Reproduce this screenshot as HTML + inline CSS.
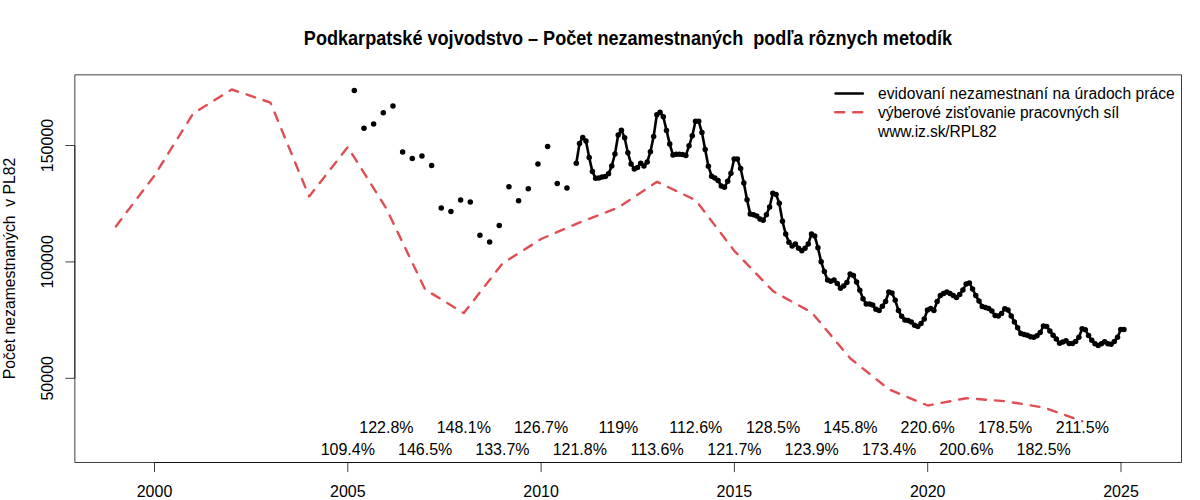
<!DOCTYPE html>
<html><head><meta charset="utf-8"><style>
html,body{margin:0;padding:0;background:#fff;width:1200px;height:500px;overflow:hidden}
svg{display:block}
text{font-family:"Liberation Sans",sans-serif;fill:#000}
</style></head><body>
<svg width="1200" height="500" viewBox="0 0 1200 500">
<rect x="0" y="0" width="1200" height="500" fill="#fff"/>
<text transform="translate(628,44.5) scale(1,1.09)" x="0" y="0" text-anchor="middle" font-weight="bold" font-size="18.1" xml:space="preserve">Podkarpatské vojvodstvo – Počet nezamestnaných  podľa rôznych metodík</text>
<path d="M74.85,74.85 H1181.5 V462.5 H74.85 Z" fill="none" stroke="#000" stroke-width="0.75" stroke-linejoin="round"/>
<text x="154.50" y="496.6" text-anchor="middle" font-size="16">2000</text>
<text x="347.80" y="496.6" text-anchor="middle" font-size="16">2005</text>
<text x="541.10" y="496.6" text-anchor="middle" font-size="16">2010</text>
<text x="734.40" y="496.6" text-anchor="middle" font-size="16">2015</text>
<text x="927.70" y="496.6" text-anchor="middle" font-size="16">2020</text>
<text x="1121.00" y="496.6" text-anchor="middle" font-size="16">2025</text>
<text transform="translate(53,378.3) rotate(-90)" x="0" y="0" text-anchor="middle" font-size="16">50000</text>
<text transform="translate(53,261.9) rotate(-90)" x="0" y="0" text-anchor="middle" font-size="16">100000</text>
<text transform="translate(53,145.5) rotate(-90)" x="0" y="0" text-anchor="middle" font-size="16">150000</text>
<path d="M154.50,462.5V472.1M347.80,462.5V472.1M541.10,462.5V472.1M734.40,462.5V472.1M927.70,462.5V472.1M1121.00,462.5V472.1M65.4,378.3H74.85M65.4,261.9H74.85M65.4,145.5H74.85M154.50,462.5H1121.00M74.85,378.3V145.5" fill="none" stroke="#000" stroke-width="0.75"/>
<text transform="translate(14.8,268.4) rotate(-90)" x="0" y="0" text-anchor="middle" font-size="15.75" xml:space="preserve">Počet nezamestnaných  v PL82</text>
<polyline points="115.84,226.4 154.50,175.5 193.16,113.5 231.82,89.5 270.48,102.6 309.14,196.5 347.80,147 386.46,208.8 425.12,289.5 463.78,313.1 502.44,263.5 541.10,239 579.76,222.4 618.42,207.4 657.08,181.8 695.74,200.2 734.40,251 773.06,291.2 811.72,312.5 850.38,358.5 889.04,389.5 927.70,405.5 966.36,398.2 1005.02,401.2 1043.68,407.5 1082.34,421.2" fill="none" stroke="#DF4E54" stroke-width="2.4" stroke-dasharray="9 9" stroke-linecap="round" stroke-linejoin="round"/>
<circle cx="354.30" cy="90.6" r="2.75"/>
<circle cx="363.97" cy="128.2" r="2.75"/>
<circle cx="373.63" cy="124" r="2.75"/>
<circle cx="383.30" cy="112.8" r="2.75"/>
<circle cx="392.96" cy="106" r="2.75"/>
<circle cx="402.62" cy="152" r="2.75"/>
<circle cx="412.29" cy="158.4" r="2.75"/>
<circle cx="421.96" cy="155.9" r="2.75"/>
<circle cx="431.62" cy="165.4" r="2.75"/>
<circle cx="441.28" cy="208" r="2.75"/>
<circle cx="450.95" cy="211.5" r="2.75"/>
<circle cx="460.62" cy="200" r="2.75"/>
<circle cx="470.28" cy="202" r="2.75"/>
<circle cx="479.94" cy="235.3" r="2.75"/>
<circle cx="489.61" cy="242" r="2.75"/>
<circle cx="499.27" cy="225.5" r="2.75"/>
<circle cx="508.94" cy="186.7" r="2.75"/>
<circle cx="518.61" cy="200.7" r="2.75"/>
<circle cx="528.27" cy="188.8" r="2.75"/>
<circle cx="537.93" cy="163.9" r="2.75"/>
<circle cx="547.60" cy="146.4" r="2.75"/>
<circle cx="557.26" cy="183.5" r="2.75"/>
<circle cx="566.93" cy="188" r="2.75"/>
<polyline points="576.30,163.3 579.52,143.5 582.74,137.4 585.97,141 589.19,157.6 592.41,171.6 595.63,178.2 598.85,177.9 602.07,177 605.30,176.5 608.52,173.8 611.74,166 614.96,154 618.18,135 621.40,130.2 624.63,137.8 627.85,152.7 631.07,163.9 634.29,168.9 637.51,167.5 640.73,163.3 643.96,166 647.18,162 650.40,151.8 653.62,136.5 656.84,114.7 660.06,112.2 663.29,116.8 666.51,130.4 669.73,144.1 672.95,154.9 676.17,154.2 679.39,154.2 682.62,154.6 685.84,155.4 689.06,145.8 692.28,135.7 695.50,121.3 698.72,121.3 701.95,132.6 705.17,149.4 708.39,166.2 711.61,176.2 714.83,178.1 718.05,180.5 721.28,186 724.50,187.3 727.72,181.3 730.94,173.3 734.16,159 737.38,159 740.61,168.5 743.83,183 747.05,199.7 750.27,214.1 753.49,214.7 756.72,216 759.94,219 763.16,220.3 766.38,214.7 769.60,207 772.82,193.2 776.05,194.4 779.27,203.2 782.49,221.2 785.71,234 788.93,242.3 792.15,246 795.38,244 798.60,248.3 801.82,250.7 805.04,248.3 808.26,244 811.48,234 814.71,235.9 817.93,247.7 821.15,261.8 824.37,271.6 827.59,280 830.81,281.2 834.04,280 837.26,283.5 840.48,288.3 843.70,286 846.92,282.4 850.14,274 853.37,275.6 856.59,281.9 859.81,290.3 863.03,298.7 866.25,303.9 869.47,303.9 872.70,305.1 875.92,309.2 879.14,310.6 882.36,306.3 885.58,301.5 888.80,292 892.03,293.1 895.25,300.3 898.47,310.6 901.69,316.3 904.91,320 908.14,320.5 911.36,322 914.58,325.2 917.80,326.4 921.02,323.6 924.24,319 927.47,310 930.69,308.6 933.91,310.4 937.13,301.6 940.35,295.6 943.57,293.6 946.80,292 950.02,293.6 953.24,295.6 956.46,297.6 959.68,294.4 962.90,290 966.13,284 969.35,283 972.57,289 975.79,295.6 979.01,301 982.23,306.4 985.46,307.6 988.68,308.4 991.90,311 995.12,315.5 998.34,316 1001.56,313.6 1004.79,308.8 1008.01,310 1011.23,316 1014.45,321.9 1017.67,327.7 1020.89,333.6 1024.12,334.4 1027.34,335.2 1030.56,336.8 1033.78,337.3 1037.00,335.7 1040.22,332.5 1043.45,326 1046.67,326.4 1049.89,330.9 1053.11,335.2 1056.33,338.9 1059.55,343.2 1062.78,342 1066.00,340.8 1069.22,343.5 1072.44,343.5 1075.66,341.4 1078.89,337.2 1082.11,328.8 1085.33,329.8 1088.55,335.4 1091.77,340.2 1094.99,343.8 1098.22,345.6 1101.44,343.8 1104.66,341.8 1107.88,343.8 1111.10,344.2 1114.32,341.4 1117.55,337.2 1120.77,329.4 1123.99,329.4" fill="none" stroke="#000" stroke-width="2.6" stroke-linejoin="round" stroke-linecap="round"/>
<circle cx="576.30" cy="163.3" r="2.75"/>
<circle cx="579.52" cy="143.5" r="2.75"/>
<circle cx="582.74" cy="137.4" r="2.75"/>
<circle cx="585.97" cy="141" r="2.75"/>
<circle cx="589.19" cy="157.6" r="2.75"/>
<circle cx="592.41" cy="171.6" r="2.75"/>
<circle cx="595.63" cy="178.2" r="2.75"/>
<circle cx="598.85" cy="177.9" r="2.75"/>
<circle cx="602.07" cy="177" r="2.75"/>
<circle cx="605.30" cy="176.5" r="2.75"/>
<circle cx="608.52" cy="173.8" r="2.75"/>
<circle cx="611.74" cy="166" r="2.75"/>
<circle cx="614.96" cy="154" r="2.75"/>
<circle cx="618.18" cy="135" r="2.75"/>
<circle cx="621.40" cy="130.2" r="2.75"/>
<circle cx="624.63" cy="137.8" r="2.75"/>
<circle cx="627.85" cy="152.7" r="2.75"/>
<circle cx="631.07" cy="163.9" r="2.75"/>
<circle cx="634.29" cy="168.9" r="2.75"/>
<circle cx="637.51" cy="167.5" r="2.75"/>
<circle cx="640.73" cy="163.3" r="2.75"/>
<circle cx="643.96" cy="166" r="2.75"/>
<circle cx="647.18" cy="162" r="2.75"/>
<circle cx="650.40" cy="151.8" r="2.75"/>
<circle cx="653.62" cy="136.5" r="2.75"/>
<circle cx="656.84" cy="114.7" r="2.75"/>
<circle cx="660.06" cy="112.2" r="2.75"/>
<circle cx="663.29" cy="116.8" r="2.75"/>
<circle cx="666.51" cy="130.4" r="2.75"/>
<circle cx="669.73" cy="144.1" r="2.75"/>
<circle cx="672.95" cy="154.9" r="2.75"/>
<circle cx="676.17" cy="154.2" r="2.75"/>
<circle cx="679.39" cy="154.2" r="2.75"/>
<circle cx="682.62" cy="154.6" r="2.75"/>
<circle cx="685.84" cy="155.4" r="2.75"/>
<circle cx="689.06" cy="145.8" r="2.75"/>
<circle cx="692.28" cy="135.7" r="2.75"/>
<circle cx="695.50" cy="121.3" r="2.75"/>
<circle cx="698.72" cy="121.3" r="2.75"/>
<circle cx="701.95" cy="132.6" r="2.75"/>
<circle cx="705.17" cy="149.4" r="2.75"/>
<circle cx="708.39" cy="166.2" r="2.75"/>
<circle cx="711.61" cy="176.2" r="2.75"/>
<circle cx="714.83" cy="178.1" r="2.75"/>
<circle cx="718.05" cy="180.5" r="2.75"/>
<circle cx="721.28" cy="186" r="2.75"/>
<circle cx="724.50" cy="187.3" r="2.75"/>
<circle cx="727.72" cy="181.3" r="2.75"/>
<circle cx="730.94" cy="173.3" r="2.75"/>
<circle cx="734.16" cy="159" r="2.75"/>
<circle cx="737.38" cy="159" r="2.75"/>
<circle cx="740.61" cy="168.5" r="2.75"/>
<circle cx="743.83" cy="183" r="2.75"/>
<circle cx="747.05" cy="199.7" r="2.75"/>
<circle cx="750.27" cy="214.1" r="2.75"/>
<circle cx="753.49" cy="214.7" r="2.75"/>
<circle cx="756.72" cy="216" r="2.75"/>
<circle cx="759.94" cy="219" r="2.75"/>
<circle cx="763.16" cy="220.3" r="2.75"/>
<circle cx="766.38" cy="214.7" r="2.75"/>
<circle cx="769.60" cy="207" r="2.75"/>
<circle cx="772.82" cy="193.2" r="2.75"/>
<circle cx="776.05" cy="194.4" r="2.75"/>
<circle cx="779.27" cy="203.2" r="2.75"/>
<circle cx="782.49" cy="221.2" r="2.75"/>
<circle cx="785.71" cy="234" r="2.75"/>
<circle cx="788.93" cy="242.3" r="2.75"/>
<circle cx="792.15" cy="246" r="2.75"/>
<circle cx="795.38" cy="244" r="2.75"/>
<circle cx="798.60" cy="248.3" r="2.75"/>
<circle cx="801.82" cy="250.7" r="2.75"/>
<circle cx="805.04" cy="248.3" r="2.75"/>
<circle cx="808.26" cy="244" r="2.75"/>
<circle cx="811.48" cy="234" r="2.75"/>
<circle cx="814.71" cy="235.9" r="2.75"/>
<circle cx="817.93" cy="247.7" r="2.75"/>
<circle cx="821.15" cy="261.8" r="2.75"/>
<circle cx="824.37" cy="271.6" r="2.75"/>
<circle cx="827.59" cy="280" r="2.75"/>
<circle cx="830.81" cy="281.2" r="2.75"/>
<circle cx="834.04" cy="280" r="2.75"/>
<circle cx="837.26" cy="283.5" r="2.75"/>
<circle cx="840.48" cy="288.3" r="2.75"/>
<circle cx="843.70" cy="286" r="2.75"/>
<circle cx="846.92" cy="282.4" r="2.75"/>
<circle cx="850.14" cy="274" r="2.75"/>
<circle cx="853.37" cy="275.6" r="2.75"/>
<circle cx="856.59" cy="281.9" r="2.75"/>
<circle cx="859.81" cy="290.3" r="2.75"/>
<circle cx="863.03" cy="298.7" r="2.75"/>
<circle cx="866.25" cy="303.9" r="2.75"/>
<circle cx="869.47" cy="303.9" r="2.75"/>
<circle cx="872.70" cy="305.1" r="2.75"/>
<circle cx="875.92" cy="309.2" r="2.75"/>
<circle cx="879.14" cy="310.6" r="2.75"/>
<circle cx="882.36" cy="306.3" r="2.75"/>
<circle cx="885.58" cy="301.5" r="2.75"/>
<circle cx="888.80" cy="292" r="2.75"/>
<circle cx="892.03" cy="293.1" r="2.75"/>
<circle cx="895.25" cy="300.3" r="2.75"/>
<circle cx="898.47" cy="310.6" r="2.75"/>
<circle cx="901.69" cy="316.3" r="2.75"/>
<circle cx="904.91" cy="320" r="2.75"/>
<circle cx="908.14" cy="320.5" r="2.75"/>
<circle cx="911.36" cy="322" r="2.75"/>
<circle cx="914.58" cy="325.2" r="2.75"/>
<circle cx="917.80" cy="326.4" r="2.75"/>
<circle cx="921.02" cy="323.6" r="2.75"/>
<circle cx="924.24" cy="319" r="2.75"/>
<circle cx="927.47" cy="310" r="2.75"/>
<circle cx="930.69" cy="308.6" r="2.75"/>
<circle cx="933.91" cy="310.4" r="2.75"/>
<circle cx="937.13" cy="301.6" r="2.75"/>
<circle cx="940.35" cy="295.6" r="2.75"/>
<circle cx="943.57" cy="293.6" r="2.75"/>
<circle cx="946.80" cy="292" r="2.75"/>
<circle cx="950.02" cy="293.6" r="2.75"/>
<circle cx="953.24" cy="295.6" r="2.75"/>
<circle cx="956.46" cy="297.6" r="2.75"/>
<circle cx="959.68" cy="294.4" r="2.75"/>
<circle cx="962.90" cy="290" r="2.75"/>
<circle cx="966.13" cy="284" r="2.75"/>
<circle cx="969.35" cy="283" r="2.75"/>
<circle cx="972.57" cy="289" r="2.75"/>
<circle cx="975.79" cy="295.6" r="2.75"/>
<circle cx="979.01" cy="301" r="2.75"/>
<circle cx="982.23" cy="306.4" r="2.75"/>
<circle cx="985.46" cy="307.6" r="2.75"/>
<circle cx="988.68" cy="308.4" r="2.75"/>
<circle cx="991.90" cy="311" r="2.75"/>
<circle cx="995.12" cy="315.5" r="2.75"/>
<circle cx="998.34" cy="316" r="2.75"/>
<circle cx="1001.56" cy="313.6" r="2.75"/>
<circle cx="1004.79" cy="308.8" r="2.75"/>
<circle cx="1008.01" cy="310" r="2.75"/>
<circle cx="1011.23" cy="316" r="2.75"/>
<circle cx="1014.45" cy="321.9" r="2.75"/>
<circle cx="1017.67" cy="327.7" r="2.75"/>
<circle cx="1020.89" cy="333.6" r="2.75"/>
<circle cx="1024.12" cy="334.4" r="2.75"/>
<circle cx="1027.34" cy="335.2" r="2.75"/>
<circle cx="1030.56" cy="336.8" r="2.75"/>
<circle cx="1033.78" cy="337.3" r="2.75"/>
<circle cx="1037.00" cy="335.7" r="2.75"/>
<circle cx="1040.22" cy="332.5" r="2.75"/>
<circle cx="1043.45" cy="326" r="2.75"/>
<circle cx="1046.67" cy="326.4" r="2.75"/>
<circle cx="1049.89" cy="330.9" r="2.75"/>
<circle cx="1053.11" cy="335.2" r="2.75"/>
<circle cx="1056.33" cy="338.9" r="2.75"/>
<circle cx="1059.55" cy="343.2" r="2.75"/>
<circle cx="1062.78" cy="342" r="2.75"/>
<circle cx="1066.00" cy="340.8" r="2.75"/>
<circle cx="1069.22" cy="343.5" r="2.75"/>
<circle cx="1072.44" cy="343.5" r="2.75"/>
<circle cx="1075.66" cy="341.4" r="2.75"/>
<circle cx="1078.89" cy="337.2" r="2.75"/>
<circle cx="1082.11" cy="328.8" r="2.75"/>
<circle cx="1085.33" cy="329.8" r="2.75"/>
<circle cx="1088.55" cy="335.4" r="2.75"/>
<circle cx="1091.77" cy="340.2" r="2.75"/>
<circle cx="1094.99" cy="343.8" r="2.75"/>
<circle cx="1098.22" cy="345.6" r="2.75"/>
<circle cx="1101.44" cy="343.8" r="2.75"/>
<circle cx="1104.66" cy="341.8" r="2.75"/>
<circle cx="1107.88" cy="343.8" r="2.75"/>
<circle cx="1111.10" cy="344.2" r="2.75"/>
<circle cx="1114.32" cy="341.4" r="2.75"/>
<circle cx="1117.55" cy="337.2" r="2.75"/>
<circle cx="1120.77" cy="329.4" r="2.75"/>
<circle cx="1123.99" cy="329.4" r="2.75"/>
<text x="386.46" y="432.9" text-anchor="middle" font-size="16">122.8%</text>
<text x="463.78" y="432.9" text-anchor="middle" font-size="16">148.1%</text>
<text x="541.10" y="432.9" text-anchor="middle" font-size="16">126.7%</text>
<text x="618.42" y="432.9" text-anchor="middle" font-size="16">119%</text>
<text x="695.74" y="432.9" text-anchor="middle" font-size="16">112.6%</text>
<text x="773.06" y="432.9" text-anchor="middle" font-size="16">128.5%</text>
<text x="850.38" y="432.9" text-anchor="middle" font-size="16">145.8%</text>
<text x="927.70" y="432.9" text-anchor="middle" font-size="16">220.6%</text>
<text x="1005.02" y="432.9" text-anchor="middle" font-size="16">178.5%</text>
<text x="1082.34" y="432.9" text-anchor="middle" font-size="16">211.5%</text>
<text x="347.80" y="454.5" text-anchor="middle" font-size="16">109.4%</text>
<text x="425.12" y="454.5" text-anchor="middle" font-size="16">146.5%</text>
<text x="502.44" y="454.5" text-anchor="middle" font-size="16">133.7%</text>
<text x="579.76" y="454.5" text-anchor="middle" font-size="16">121.8%</text>
<text x="657.08" y="454.5" text-anchor="middle" font-size="16">113.6%</text>
<text x="734.40" y="454.5" text-anchor="middle" font-size="16">121.7%</text>
<text x="811.72" y="454.5" text-anchor="middle" font-size="16">123.9%</text>
<text x="889.04" y="454.5" text-anchor="middle" font-size="16">173.4%</text>
<text x="966.36" y="454.5" text-anchor="middle" font-size="16">200.6%</text>
<text x="1043.68" y="454.5" text-anchor="middle" font-size="16">182.5%</text>
<path d="M835.6,93.5H862.8" stroke="#000" stroke-width="2.6" stroke-linecap="round"/>
<path d="M835.2,112.2H863.2" stroke="#DF4E54" stroke-width="2.4" stroke-dasharray="9 9" stroke-linecap="round"/>
<text x="878" y="99.2" font-size="15.6" textLength="296.8" lengthAdjust="spacing">evidovaní nezamestnaní na úradoch práce</text>
<text x="878" y="118.3" font-size="15.6" textLength="241" lengthAdjust="spacing">výberové zisťovanie pracovných síl</text>
<text x="878" y="136.8" font-size="15.6" textLength="118.8" lengthAdjust="spacing">www.iz.sk/RPL82</text>
</svg>
</body></html>
